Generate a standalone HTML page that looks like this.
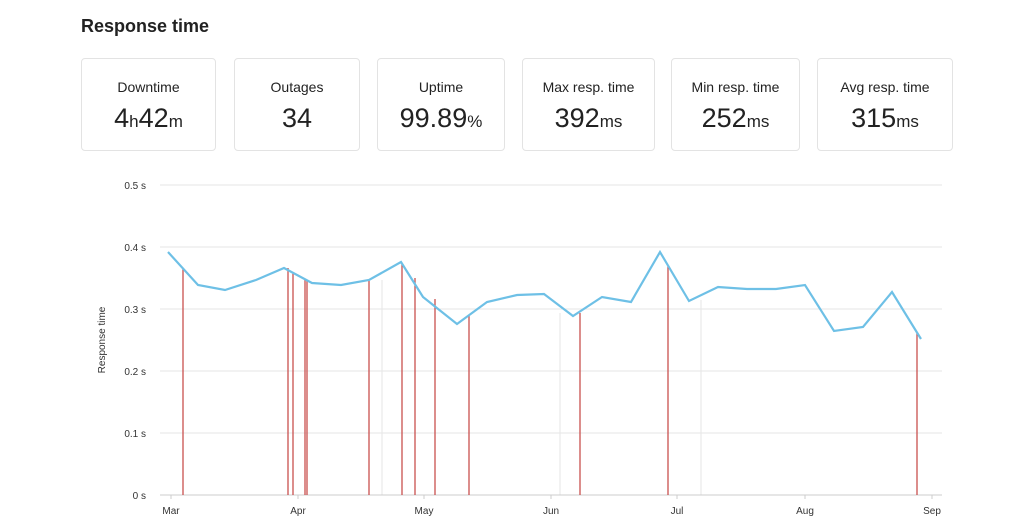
<!DOCTYPE html>
<html><head><meta charset="utf-8"><style>
body{margin:0;background:#fff;font-family:"Liberation Sans",sans-serif;}
.t{position:absolute;left:81px;top:16px;font-size:18px;font-weight:bold;color:#222;}
.c{position:absolute;top:58px;height:93px;border:1px solid #e3e3e3;border-radius:4px;text-align:center;color:#222;box-sizing:border-box}
.c .l{margin-top:20px;font-size:14px;}
.c .v{margin-top:8px;font-size:27px;}
.c .v small{font-size:17px;}
</style></head><body>
<div class="t">Response time</div>
<div class="c" style="left:81px;width:135px"><div class="l">Downtime</div><div class="v">4<small>h</small>42<small>m</small></div></div>
<div class="c" style="left:234px;width:126px"><div class="l">Outages</div><div class="v">34</div></div>
<div class="c" style="left:377px;width:128px"><div class="l">Uptime</div><div class="v">99.89<small>%</small></div></div>
<div class="c" style="left:522px;width:133px"><div class="l">Max resp. time</div><div class="v">392<small>ms</small></div></div>
<div class="c" style="left:671px;width:129px"><div class="l">Min resp. time</div><div class="v">252<small>ms</small></div></div>
<div class="c" style="left:817px;width:136px"><div class="l">Avg resp. time</div><div class="v">315<small>ms</small></div></div>
<svg width="1024" height="527" style="position:absolute;left:0;top:0" font-family="Liberation Sans" font-size="10" fill="#333">
<g stroke="#e6e6e6" stroke-width="1">
<line x1="160" x2="942" y1="185" y2="185"/><line x1="160" x2="942" y1="247" y2="247"/>
<line x1="160" x2="942" y1="309" y2="309"/><line x1="160" x2="942" y1="371" y2="371"/>
<line x1="160" x2="942" y1="433" y2="433"/>
<line x1="382" x2="382" y1="280" y2="495"/><line x1="560" x2="560" y1="313" y2="495"/><line x1="701" x2="701" y1="300" y2="495"/>
</g>
<line x1="160" x2="942" y1="495" y2="495" stroke="#ccc"/>
<g stroke="#ccc"><line x1="171" x2="171" y1="495" y2="499"/><line x1="298" x2="298" y1="495" y2="499"/><line x1="424" x2="424" y1="495" y2="499"/><line x1="551" x2="551" y1="495" y2="499"/><line x1="677" x2="677" y1="495" y2="499"/><line x1="805" x2="805" y1="495" y2="499"/><line x1="932" x2="932" y1="495" y2="499"/></g>
<g text-anchor="end"><text x="146" y="189">0.5 s</text><text x="146" y="251">0.4 s</text><text x="146" y="313">0.3 s</text><text x="146" y="375">0.2 s</text><text x="146" y="437">0.1 s</text><text x="146" y="499">0 s</text></g>
<g text-anchor="middle"><text x="171" y="514">Mar</text><text x="298" y="514">Apr</text><text x="424" y="514">May</text><text x="551" y="514">Jun</text><text x="677" y="514">Jul</text><text x="805" y="514">Aug</text><text x="932" y="514">Sep</text></g>
<text transform="translate(105,340) rotate(-90)" text-anchor="middle">Response time</text>
<g stroke="#c9504f" stroke-width="1.3">
<line x1="183" x2="183" y1="268" y2="495"/><line x1="288" x2="288" y1="268" y2="495"/><line x1="293" x2="293" y1="272" y2="495"/><line x1="305" x2="305" y1="280" y2="495"/><line x1="307" x2="307" y1="281" y2="495"/><line x1="369" x2="369" y1="280" y2="495"/><line x1="402" x2="402" y1="263" y2="495"/><line x1="415" x2="415" y1="278" y2="495"/><line x1="435" x2="435" y1="299" y2="495"/><line x1="469" x2="469" y1="316" y2="495"/><line x1="580" x2="580" y1="313" y2="495"/><line x1="668" x2="668" y1="266" y2="495"/><line x1="917" x2="917" y1="333" y2="495"/>
</g>
<polyline fill="none" stroke="#6ec0e6" stroke-width="2.2" points="168,252 198,285 225,290 256,280 284,268 312,283 341,285 369,280 401,262 423,297 457,324 487,302 517,295 544,294 573,316 602,297 631,302 660,252 689,301 718,287 747,289 776,289 805,285 834,331 863,327 892,292 921,339"/>
</svg>
</body></html>
